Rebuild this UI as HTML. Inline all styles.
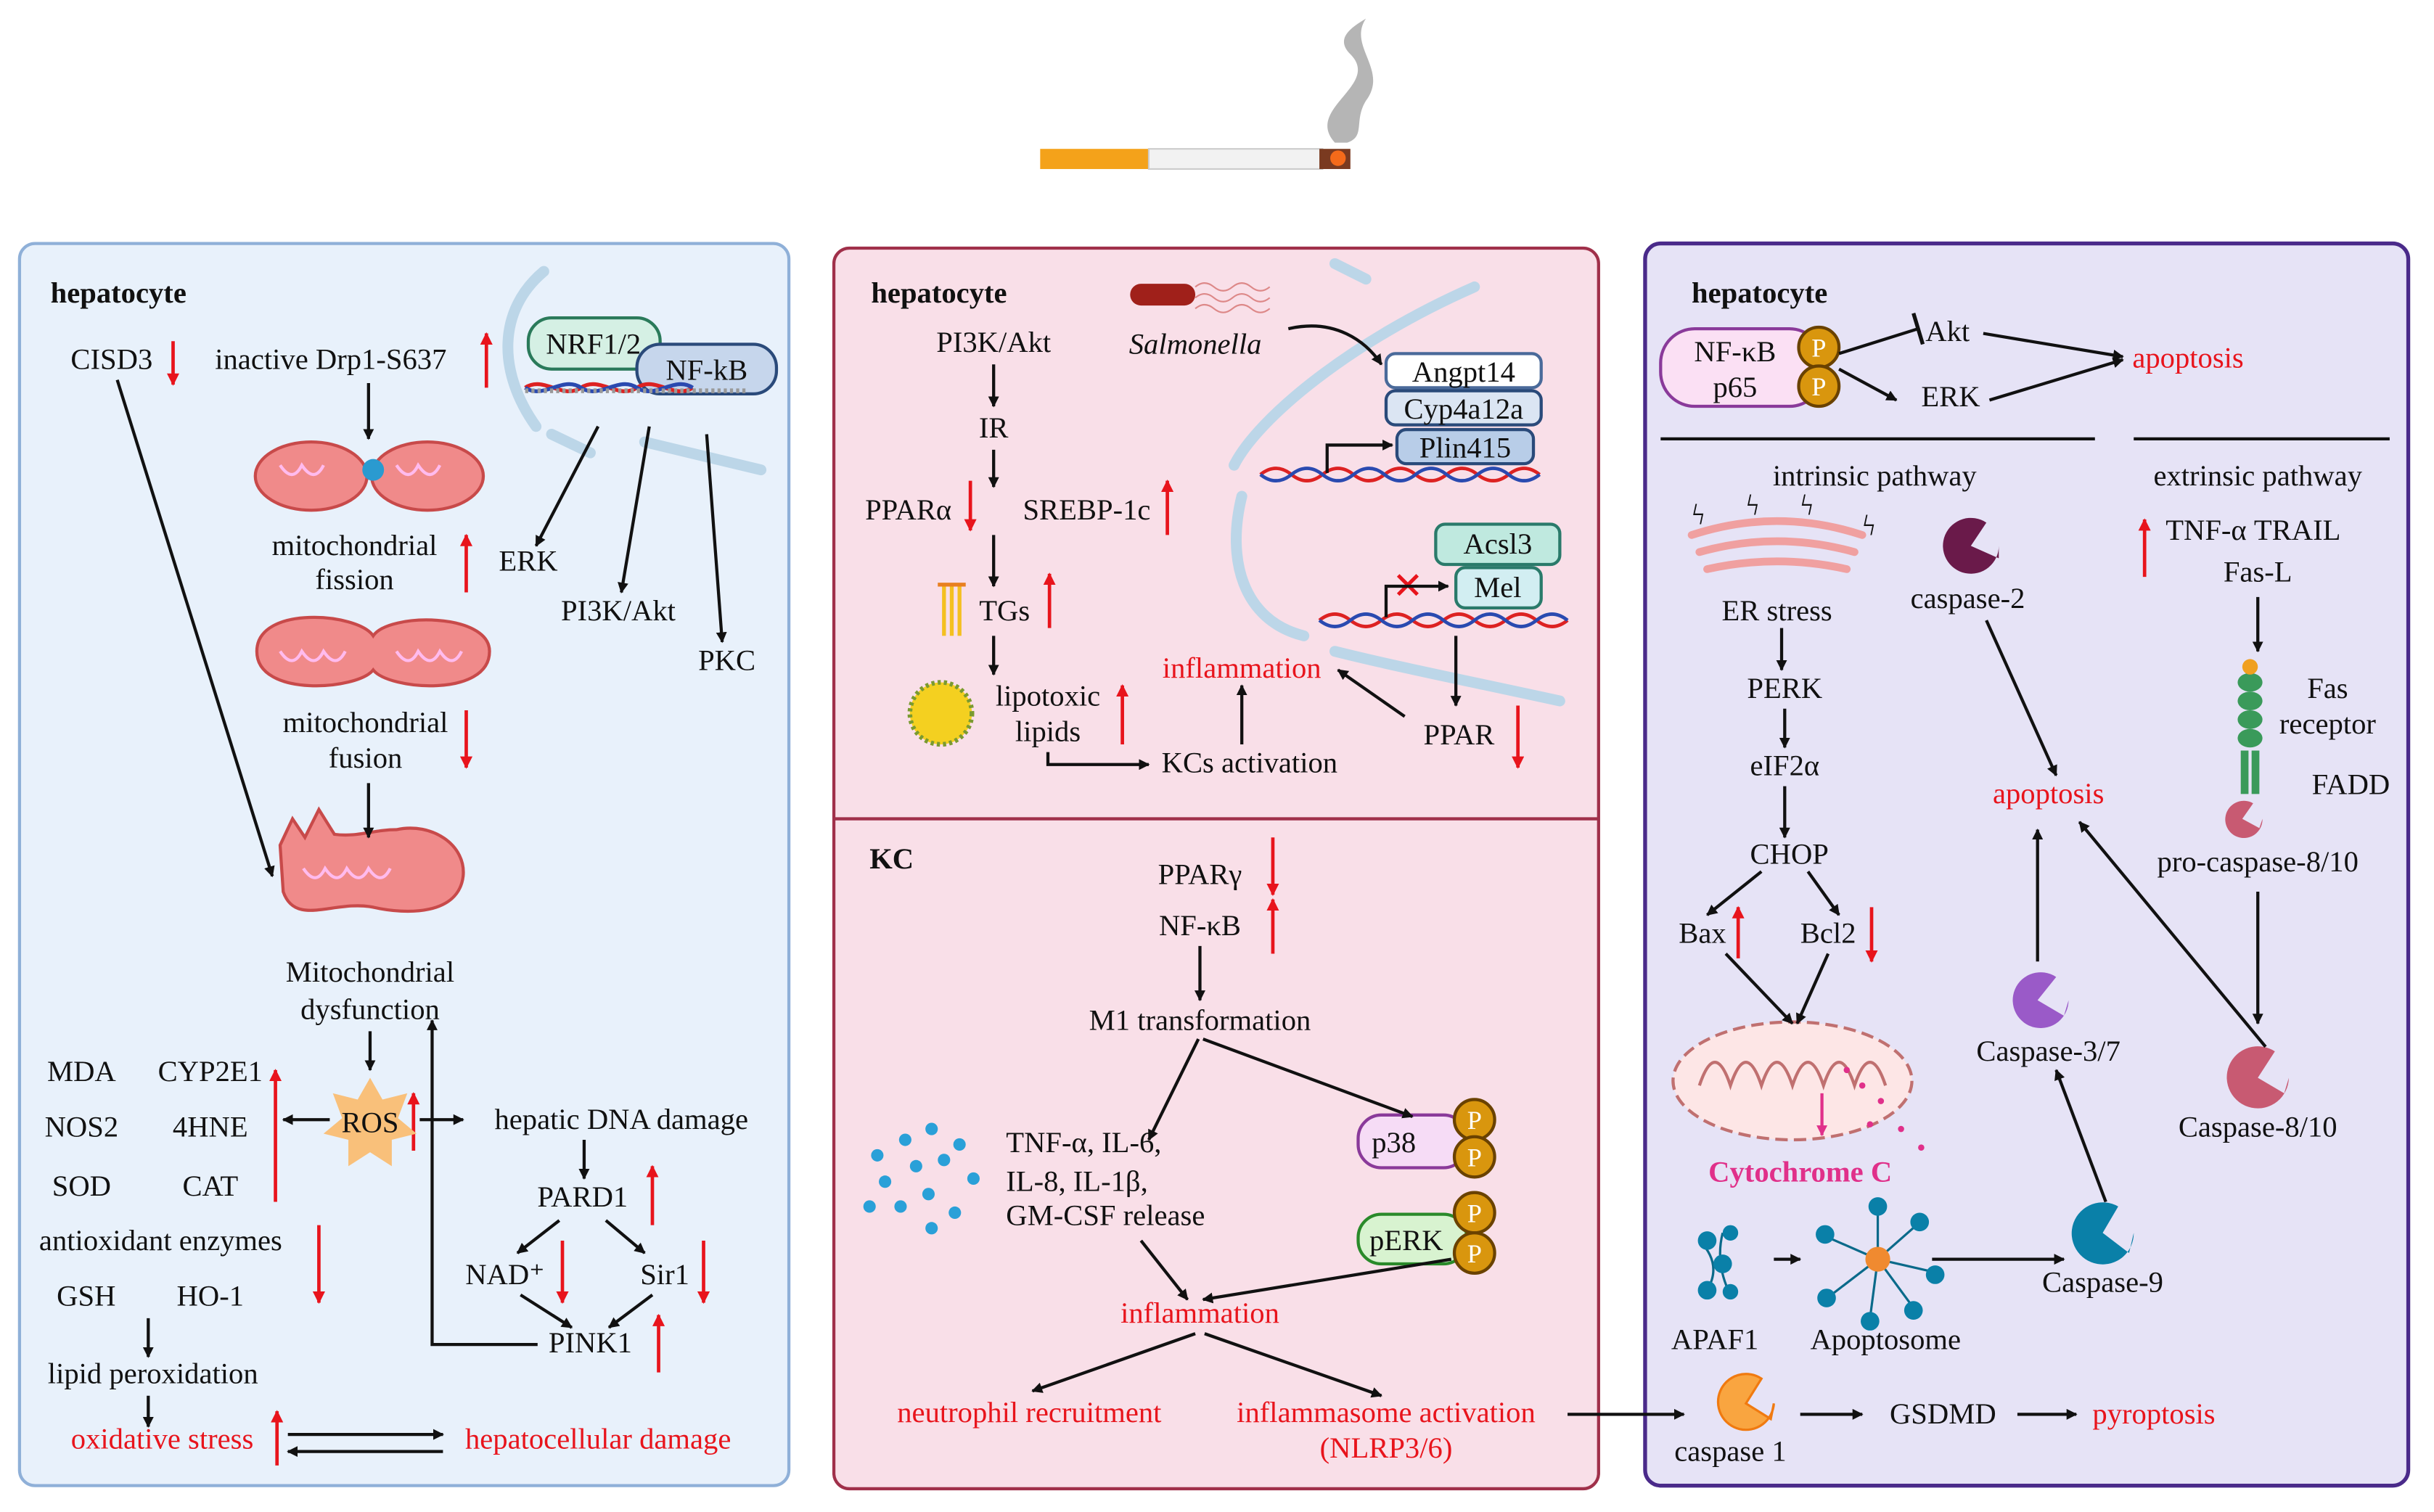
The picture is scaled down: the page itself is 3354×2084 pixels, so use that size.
<!DOCTYPE html>
<html><head><meta charset="utf-8"><style>
html,body{margin:0;padding:0;background:#fff}
svg{display:block}
text{font-family:"Liberation Serif",serif;font-size:19px;fill:#111}
.c{text-anchor:middle}
.r{fill:#e8141c}
.b{font-weight:bold}
</style></head><body>
<svg width="3354" height="2084" viewBox="0 0 1568 975" xmlns="http://www.w3.org/2000/svg">
<defs>
<marker id="a" viewBox="0 0 10 10" refX="9" refY="5" markerWidth="7" markerHeight="7" orient="auto-start-reverse" markerUnits="userSpaceOnUse"><path d="M0,0L10,5L0,10z" fill="#111"/></marker>
<marker id="ar" viewBox="0 0 10 10" refX="9" refY="5" markerWidth="8" markerHeight="8" orient="auto" markerUnits="userSpaceOnUse"><path d="M0,0L10,5L0,10z" fill="#e8141c"/></marker>
<marker id="am" viewBox="0 0 10 10" refX="9" refY="5" markerWidth="7" markerHeight="7" orient="auto" markerUnits="userSpaceOnUse"><path d="M0,0L10,5L0,10z" fill="#e0308a"/></marker>
<g id="pp"><circle r="13" fill="#d9960e" stroke="#6a4200" stroke-width="2"/><text y="6" class="c" style="fill:#fff;font-size:17px">P</text></g>
</defs>
<!-- cigarette -->
<path d="M860,92 C840,70 890,55 870,35 C860,25 870,18 880,12 C868,30 895,45 880,65 C872,78 880,88 868,92z" fill="#b5b5b5"/>
<rect x="670" y="96" width="70" height="13" fill="#f4a21a"/>
<rect x="740" y="96" width="112" height="13" fill="#f2f2f2" stroke="#ccc"/>
<rect x="850" y="96" width="20" height="13" fill="#7a3a20"/>
<circle cx="862" cy="102" r="5" fill="#f46a1a"/>
<!-- panels -->
<rect x="12" y="157" width="496" height="801" rx="10" fill="#e8f1fb" stroke="#8fb0d8" stroke-width="2"/>
<rect x="537" y="160" width="493" height="800" rx="10" fill="#f9dfe8" stroke="#a0304a" stroke-width="2"/>
<line x1="537" y1="528" x2="1030" y2="528" stroke="#a0304a" stroke-width="2"/>
<rect x="1060" y="157" width="492" height="801" rx="10" fill="#e6e3f6" stroke="#4a2a8a" stroke-width="2.5"/>

<!-- LEFT PANEL -->
<text x="32" y="195" class="b">hepatocyte</text>
<text x="45" y="238">CISD3</text>
<text x="138" y="238">inactive Drp1-S637</text>
<g stroke="#e8141c" stroke-width="2.2" marker-end="url(#ar)">
<line x1="111" y1="220" x2="111" y2="248"/>
<line x1="313" y1="250" x2="313" y2="215"/>
<line x1="300" y1="382" x2="300" y2="345"/>
<line x1="300" y1="458" x2="300" y2="495"/>
<line x1="266" y1="742" x2="266" y2="705"/>
<line x1="177" y1="775" x2="177" y2="690"/>
<line x1="205" y1="790" x2="205" y2="840"/>
<line x1="178" y1="945" x2="178" y2="910"/>
<line x1="420" y1="790" x2="420" y2="752"/>
<line x1="362" y1="800" x2="362" y2="840"/>
<line x1="453" y1="800" x2="453" y2="840"/>
<line x1="424" y1="885" x2="424" y2="848"/>
<line x1="625" y1="310" x2="625" y2="342"/>
<line x1="752" y1="345" x2="752" y2="310"/>
<line x1="676" y1="405" x2="676" y2="370"/>
<line x1="723" y1="480" x2="723" y2="442"/>
<line x1="978" y1="455" x2="978" y2="495"/>
<line x1="820" y1="540" x2="820" y2="577"/>
<line x1="820" y1="615" x2="820" y2="580"/>
<line x1="1120" y1="618" x2="1120" y2="585"/>
<line x1="1206" y1="585" x2="1206" y2="620"/>
<line x1="1382" y1="372" x2="1382" y2="335"/>
</g>
<g stroke="#bcd6e8" stroke-width="7" fill="none" stroke-linecap="round">
<path d="M350,175 C320,200 320,240 345,275"/>
<path d="M355,280 L380,292"/>
<path d="M415,285 L490,303"/>
</g>
<rect x="340" y="205" width="85" height="33" rx="15" fill="#d5f0e4" stroke="#2a7a5a" stroke-width="2"/>
<text x="382" y="228" class="c">NRF1/2</text>
<rect x="410" y="222" width="90" height="32" rx="15" fill="#c6d6ec" stroke="#2a4a7a" stroke-width="2"/>
<text x="455" y="245" class="c">NF-kB</text>
<path d="M338,250 C350,242 362,258 374,250 C386,242 398,258 410,250 C422,242 434,258 446,250" stroke="#d22" stroke-width="2.5" fill="none"/>
<path d="M338,250 C350,258 362,242 374,250 C386,258 398,242 410,250 C422,258 434,242 446,250" stroke="#2a4ab0" stroke-width="2.5" fill="none"/>
<line x1="338" y1="252" x2="480" y2="252" stroke="#999" stroke-width="3" stroke-dasharray="2,2"/>
<ellipse cx="200" cy="307" rx="36" ry="22" fill="#f08a8a" stroke="#c84a4a" stroke-width="2"/>
<ellipse cx="275" cy="307" rx="36" ry="22" fill="#f08a8a" stroke="#c84a4a" stroke-width="2"/>
<circle cx="240" cy="303" r="7" fill="#2a9ad0"/>
<path d="M180,300 q8,12 14,0 q8,12 14,0 M255,300 q8,12 14,0 q8,12 14,0" stroke="#fbe" stroke-width="2" fill="none"/>
<text x="228" y="358" class="c">mitochondrial</text><text x="228" y="380" class="c">fission</text>
<path d="M165,420 C165,390 230,395 240,410 C250,395 315,395 315,420 C315,450 250,445 240,432 C230,445 165,450 165,420z" fill="#f08a8a" stroke="#c84a4a" stroke-width="2"/>
<path d="M180,420 q8,12 14,0 q8,12 14,0 q8,12 14,0 M255,420 q8,12 14,0 q8,12 14,0 q8,12 14,0" stroke="#fbe" stroke-width="2" fill="none"/>
<text x="235" y="472" class="c">mitochondrial</text><text x="235" y="495" class="c">fusion</text>
<path d="M180,545 L188,528 L196,540 L205,522 L215,538 C230,540 240,535 255,535 C278,530 300,545 298,565 C295,590 262,590 240,585 C215,580 190,598 182,575 z" fill="#f08a8a" stroke="#c84a4a" stroke-width="2"/>
<path d="M195,560 q8,12 14,0 q8,12 14,0 q8,12 14,0 q8,12 14,0" stroke="#fbe" stroke-width="2" fill="none"/>
<text x="238" y="633" class="c">Mitochondrial</text><text x="238" y="657" class="c">dysfunction</text>
<path d="M238,695 l8,14 l16,-4 l-6,16 l12,10 l-16,4 l0,17 l-14,-9 l-14,9 l0,-17 l-16,-4 l12,-10 l-6,-16 l16,4z" fill="#f9c07a"/>
<text x="238" y="730" class="c">ROS</text>
<text x="52" y="697" class="c">MDA</text><text x="135" y="697" class="c">CYP2E1</text>
<text x="52" y="733" class="c">NOS2</text><text x="135" y="733" class="c">4HNE</text>
<text x="52" y="771" class="c">SOD</text><text x="135" y="771" class="c">CAT</text>
<text x="103" y="806" class="c">antioxidant enzymes</text>
<text x="55" y="842" class="c">GSH</text><text x="135" y="842" class="c">HO-1</text>
<text x="98" y="892" class="c">lipid peroxidation</text>
<text x="104" y="934" class="c r">oxidative stress</text>
<text x="385" y="934" class="c r">hepatocellular damage</text>
<text x="400" y="728" class="c">hepatic DNA damage</text>
<text x="375" y="778" class="c">PARD1</text>
<text x="325" y="828" class="c">NAD⁺</text>
<text x="428" y="828" class="c">Sir1</text>
<text x="380" y="872" class="c">PINK1</text>
<text x="340" y="368" class="c">ERK</text>
<text x="398" y="400" class="c">PI3K/Akt</text>
<text x="468" y="432" class="c">PKC</text>
<g stroke="#111" stroke-width="2" fill="none" marker-end="url(#a)">
<line x1="385" y1="275" x2="345" y2="352"/>
<line x1="418" y1="275" x2="400" y2="382"/>
<line x1="455" y1="280" x2="465" y2="414"/>
<line x1="237" y1="247" x2="237" y2="283"/>
<line x1="237" y1="505" x2="237" y2="540"/>
<line x1="75" y1="245" x2="175" y2="565"/>
<line x1="238" y1="665" x2="238" y2="690"/>
<line x1="212" y1="722" x2="182" y2="722"/>
<line x1="270" y1="722" x2="298" y2="722"/>
<line x1="95" y1="850" x2="95" y2="875"/>
<line x1="95" y1="900" x2="95" y2="920"/>
<line x1="185" y1="925" x2="285" y2="925"/>
<line x1="285" y1="936" x2="185" y2="936"/>
<line x1="376" y1="735" x2="376" y2="760"/>
<line x1="360" y1="787" x2="333" y2="808"/>
<line x1="390" y1="787" x2="415" y2="808"/>
<line x1="335" y1="835" x2="368" y2="856"/>
<line x1="420" y1="835" x2="392" y2="856"/>
<polyline points="346,867 278,867 278,658"/>
</g>

<!-- MIDDLE TOP -->
<g stroke="#bcd6e8" stroke-width="7" fill="none" stroke-linecap="round">
<path d="M950,185 C870,220 810,270 795,300"/>
<path d="M800,320 C790,360 800,400 840,410"/>
<path d="M860,420 C900,430 950,440 1005,452"/>
<path d="M860,170 L880,180"/>
</g>
<text x="561" y="195" class="b">hepatocyte</text>
<rect x="728" y="183" width="42" height="14" rx="7" fill="#a0201a"/>
<path d="M770,185 q6,-5 12,0 t12,0 t12,0 t12,0 M770,192 q6,-5 12,0 t12,0 t12,0 t12,0 M770,199 q6,-5 12,0 t12,0 t12,0 t12,0" stroke="#d88" stroke-width="1" fill="none"/>
<text x="770" y="228" class="c" style="font-style:italic">Salmonella</text>
<text x="640" y="227" class="c">PI3K/Akt</text>
<text x="640" y="282" class="c">IR</text>
<text x="585" y="335" class="c">PPARα</text>
<text x="700" y="335" class="c">SREBP-1c</text>
<g stroke="#f4c020" stroke-width="2.5"><line x1="608" y1="378" x2="608" y2="410"/><line x1="613" y1="378" x2="613" y2="410"/><line x1="618" y1="378" x2="618" y2="410"/><line x1="604" y1="377" x2="622" y2="377" stroke="#e88020"/></g>
<text x="647" y="400" class="c">TGs</text>
<circle cx="606" cy="460" r="20" fill="#f4d020" stroke="#7a9a30" stroke-width="3" stroke-dasharray="2,2"/>
<text x="675" y="455" class="c">lipotoxic</text><text x="675" y="478" class="c">lipids</text>
<text x="805" y="498" class="c">KCs activation</text>
<text x="800" y="437" class="c r">inflammation</text>
<text x="940" y="480" class="c">PPAR</text>
<rect x="893" y="228" width="100" height="22" rx="6" fill="#fff" stroke="#4a6a9a" stroke-width="2"/><text x="943" y="246" class="c">Angpt14</text>
<rect x="893" y="252" width="100" height="22" rx="6" fill="#dbe5f3" stroke="#2a4a7a" stroke-width="2"/><text x="943" y="270" class="c">Cyp4a12a</text>
<rect x="900" y="277" width="88" height="22" rx="6" fill="#b8cde8" stroke="#2a4a7a" stroke-width="2"/><text x="944" y="295" class="c">Plin415</text>
<rect x="925" y="338" width="80" height="26" rx="6" fill="#bfe9df" stroke="#2a7a6a" stroke-width="2"/><text x="965" y="357" class="c">Acsl3</text>
<rect x="938" y="366" width="55" height="26" rx="6" fill="#d2eef2" stroke="#2a7a6a" stroke-width="2"/><text x="965" y="385" class="c">Mel</text>
<g fill="none" stroke-width="2.2">
<path d="M812,306 q10,-8 20,0 t20,0 t20,0 t20,0 t20,0 t20,0 t20,0 t20,0 t20,0" stroke="#d22"/>
<path d="M812,306 q10,8 20,0 t20,0 t20,0 t20,0 t20,0 t20,0 t20,0 t20,0 t20,0" stroke="#2a4ab0"/>
<path d="M850,400 q10,-8 20,0 t20,0 t20,0 t20,0 t20,0 t20,0 t20,0 t20,0" stroke="#d22"/>
<path d="M850,400 q10,8 20,0 t20,0 t20,0 t20,0 t20,0 t20,0 t20,0 t20,0" stroke="#2a4ab0"/>
</g>
<text x="907" y="386" class="c r" style="font-size:24px">✕</text>
<g stroke="#111" stroke-width="2" fill="none" marker-end="url(#a)">
<path d="M830,212 C860,205 880,220 890,235"/>
<line x1="640" y1="235" x2="640" y2="262"/>
<line x1="640" y1="290" x2="640" y2="314"/>
<line x1="640" y1="345" x2="640" y2="378"/>
<line x1="640" y1="410" x2="640" y2="435"/>
<polyline points="675,485 675,493 740,493"/>
<line x1="800" y1="480" x2="800" y2="442"/>
<line x1="905" y1="462" x2="862" y2="432"/>
<line x1="938" y1="410" x2="938" y2="455"/>
<polyline points="855,305 855,287 897,287"/>
<polyline points="893,398 893,378 933,378"/>
</g>

<!-- MIDDLE BOTTOM KC -->
<text x="560" y="560" class="b">KC</text>
<text x="773" y="570" class="c">PPARγ</text>
<text x="773" y="603" class="c">NF-κB</text>
<text x="773" y="664" class="c">M1 transformation</text>
<g fill="#2aa0d8">
<circle cx="565" cy="745" r="4"/><circle cx="583" cy="735" r="4"/><circle cx="600" cy="728" r="4"/><circle cx="618" cy="738" r="4"/>
<circle cx="570" cy="762" r="4"/><circle cx="590" cy="752" r="4"/><circle cx="608" cy="748" r="4"/><circle cx="627" cy="760" r="4"/>
<circle cx="580" cy="778" r="4"/><circle cx="598" cy="770" r="4"/><circle cx="615" cy="782" r="4"/><circle cx="560" cy="778" r="4"/><circle cx="600" cy="792" r="4"/>
</g>
<text x="648" y="743">TNF-α, IL-6,</text>
<text x="648" y="768">IL-8, IL-1β,</text>
<text x="648" y="790">GM-CSF release</text>
<rect x="875" y="719" width="70" height="34" rx="15" fill="#f6dcf6" stroke="#8a3a9a" stroke-width="2"/><text x="898" y="743" class="c">p38</text>
<use href="#pp" x="950" y="722"/><use href="#pp" x="950" y="746"/>
<rect x="875" y="783" width="70" height="32" rx="15" fill="#d8f3d0" stroke="#2a8a2a" stroke-width="2"/><text x="906" y="806" class="c">pERK</text>
<use href="#pp" x="950" y="782"/><use href="#pp" x="950" y="808"/>
<text x="773" y="853" class="c r">inflammation</text>
<text x="663" y="917" class="c r">neutrophil recruitment</text>
<text x="893" y="917" class="c r">inflammasome activation</text>
<text x="893" y="940" class="c r">(NLRP3/6)</text>
<g stroke="#111" stroke-width="2" fill="none" marker-end="url(#a)">
<line x1="773" y1="610" x2="773" y2="645"/>
<line x1="772" y1="670" x2="740" y2="735" />
<line x1="775" y1="670" x2="910" y2="720"/>
<line x1="735" y1="800" x2="765" y2="838"/>
<line x1="935" y1="812" x2="775" y2="838"/>
<line x1="770" y1="860" x2="665" y2="897"/>
<line x1="776" y1="860" x2="890" y2="900"/>
<line x1="1010" y1="912" x2="1085" y2="912"/>
</g>

<!-- RIGHT PANEL -->
<text x="1090" y="195" class="b">hepatocyte</text>
<rect x="1070" y="212" width="105" height="50" rx="22" fill="#fbe0f4" stroke="#8a3a9a" stroke-width="2"/>
<text x="1118" y="233" class="c">NF-κB</text><text x="1118" y="256" class="c">p65</text>
<use href="#pp" x="1172" y="224"/><use href="#pp" x="1172" y="249"/>
<text x="1255" y="220" class="c">Akt</text>
<text x="1257" y="262" class="c">ERK</text>
<text x="1410" y="237" class="c r">apoptosis</text>
<line x1="1070" y1="283" x2="1350" y2="283" stroke="#111" stroke-width="2"/>
<line x1="1375" y1="283" x2="1540" y2="283" stroke="#111" stroke-width="2"/>
<text x="1208" y="313" class="c">intrinsic pathway</text>
<text x="1455" y="313" class="c">extrinsic pathway</text>
<g stroke="#f0a0a0" stroke-width="5" fill="none" stroke-linecap="round">
<path d="M1090,345 q55,-18 110,0"/><path d="M1095,356 q50,-14 100,0"/><path d="M1100,367 q45,-10 90,0"/>
</g>
<g fill="#e8141c" font-size="14"><text x="1090" y="338">ϟ</text><text x="1125" y="332">ϟ</text><text x="1160" y="332">ϟ</text><text x="1200" y="345">ϟ</text></g>
<text x="1145" y="400" class="c">ER stress</text>
<path d="M1288,352 A18,18 0 1,1 1280,337 L1270,352 L1288,360z" fill="#6a1a4a"/>
<text x="1268" y="392" class="c">caspase-2</text>
<text x="1150" y="450" class="c">PERK</text>
<text x="1150" y="500" class="c">eIF2α</text>
<text x="1153" y="557" class="c">CHOP</text>
<text x="1097" y="608" class="c">Bax</text>
<text x="1178" y="608" class="c">Bcl2</text>
<ellipse cx="1155" cy="697" rx="77" ry="38" fill="#fde6e6" stroke="#c07070" stroke-width="2" stroke-dasharray="8,4"/>
<path d="M1095,700 q10,-30 20,0 q10,-30 20,0 q10,-30 20,0 q10,-30 20,0 q10,-30 20,0 q10,-30 20,0" stroke="#c07070" stroke-width="2" fill="none"/>
<g fill="#e0308a"><circle cx="1190" cy="690" r="2"/><circle cx="1200" cy="700" r="2"/><circle cx="1212" cy="710" r="2"/><circle cx="1225" cy="728" r="2"/><circle cx="1238" cy="740" r="2"/><circle cx="1205" cy="725" r="2"/></g>
<line x1="1174" y1="705" x2="1174" y2="732" stroke="#e0308a" stroke-width="2" marker-end="url(#am)"/>
<text x="1160" y="762" class="c b" style="fill:#e0308a">Cytochrome C</text>
<g stroke="#0a6a8a" stroke-width="1.5" fill="none"><path d="M1095,800 q15,15 5,32 M1110,795 q-5,20 5,40"/></g>
<g fill="#0a80a8">
<circle cx="1100" cy="800" r="6"/><circle cx="1110" cy="815" r="6"/><circle cx="1100" cy="832" r="6"/><circle cx="1115" cy="795" r="5"/><circle cx="1115" cy="833" r="5"/>
</g>
<text x="1105" y="870" class="c">APAF1</text>
<g stroke="#0a6a8a" stroke-width="1.5">
<line x1="1210" y1="812" x2="1210" y2="780"/><line x1="1210" y1="812" x2="1235" y2="790"/><line x1="1210" y1="812" x2="1245" y2="820"/><line x1="1210" y1="812" x2="1232" y2="842"/><line x1="1210" y1="812" x2="1205" y2="850"/><line x1="1210" y1="812" x2="1180" y2="835"/><line x1="1210" y1="812" x2="1178" y2="798"/>
</g>
<g fill="#0a80a8"><circle cx="1210" cy="778" r="6"/><circle cx="1237" cy="788" r="6"/><circle cx="1247" cy="822" r="6"/><circle cx="1233" cy="845" r="6"/><circle cx="1205" cy="852" r="6"/><circle cx="1177" cy="837" r="6"/><circle cx="1176" cy="796" r="6"/></g>
<circle cx="1210" cy="812" r="8" fill="#f08a30"/>
<text x="1215" y="870" class="c">Apoptosome</text>
<path d="M1375,795 A20,20 0 1,1 1365,778 L1355,795 L1372,808z" fill="#0a80a8"/>
<text x="1355" y="833" class="c">Caspase-9</text>
<path d="M1333,645 A18,18 0 1,1 1325,630 L1313,645 L1330,655z" fill="#9a5ac8"/>
<text x="1320" y="684" class="c">Caspase-3/7</text>
<text x="1320" y="518" class="c r">apoptosis</text>
<text x="1452" y="348" class="c">TNF-α   TRAIL</text>
<text x="1455" y="375" class="c">Fas-L</text>
<g fill="#3a9a5a"><ellipse cx="1450" cy="440" rx="8" ry="6"/><ellipse cx="1450" cy="452" rx="8" ry="6"/><ellipse cx="1450" cy="464" rx="8" ry="6"/><ellipse cx="1450" cy="476" rx="8" ry="6"/><rect x="1444" y="484" width="5" height="28"/><rect x="1451" y="484" width="5" height="28"/></g>
<circle cx="1450" cy="430" r="5" fill="#f0a020"/>
<text x="1500" y="450" class="c">Fas</text><text x="1500" y="473" class="c">receptor</text>
<text x="1515" y="512" class="c">FADD</text>
<path d="M1458,528 A12,12 0 1,1 1452,518 L1445,528 L1456,534z" fill="#c85a72"/>
<text x="1455" y="562" class="c">pro-caspase-8/10</text>
<path d="M1475,695 A20,20 0 1,1 1466,678 L1455,695 L1472,705z" fill="#c85a72"/>
<text x="1455" y="733" class="c">Caspase-8/10</text>
<path d="M1143,905 A18,18 0 1,1 1135,889 L1125,905 L1141,915z" fill="#f9a540" stroke="#f07a10" stroke-width="1.5"/>
<text x="1115" y="942" class="c">caspase 1</text>
<text x="1252" y="918" class="c">GSDMD</text>
<text x="1388" y="918" class="c r">pyroptosis</text>
<g stroke="#111" stroke-width="2" fill="none" marker-end="url(#a)">
<line x1="1278" y1="215" x2="1368" y2="230"/>
<line x1="1282" y1="258" x2="1368" y2="232"/>
<line x1="1185" y1="238" x2="1222" y2="258"/>
<line x1="1148" y1="405" x2="1148" y2="432"/>
<line x1="1150" y1="457" x2="1150" y2="482"/>
<line x1="1150" y1="507" x2="1150" y2="540"/>
<line x1="1135" y1="562" x2="1100" y2="590"/>
<line x1="1165" y1="562" x2="1185" y2="590"/>
<line x1="1112" y1="615" x2="1155" y2="660"/>
<line x1="1178" y1="615" x2="1158" y2="660"/>
<line x1="1143" y1="812" x2="1160" y2="812"/>
<line x1="1245" y1="812" x2="1330" y2="812"/>
<line x1="1357" y1="775" x2="1325" y2="690"/>
<line x1="1313" y1="620" x2="1313" y2="535"/>
<line x1="1280" y1="400" x2="1325" y2="500"/>
<line x1="1460" y1="675" x2="1340" y2="530"/>
<line x1="1455" y1="385" x2="1455" y2="420"/>
<line x1="1455" y1="575" x2="1455" y2="660"/>
<line x1="1160" y1="912" x2="1200" y2="912"/>
<line x1="1300" y1="912" x2="1338" y2="912"/>
</g>
<line x1="1185" y1="228" x2="1236" y2="212" stroke="#111" stroke-width="2"/>
<line x1="1233" y1="202" x2="1239" y2="222" stroke="#111" stroke-width="2.5"/>
</svg>
</body></html>
